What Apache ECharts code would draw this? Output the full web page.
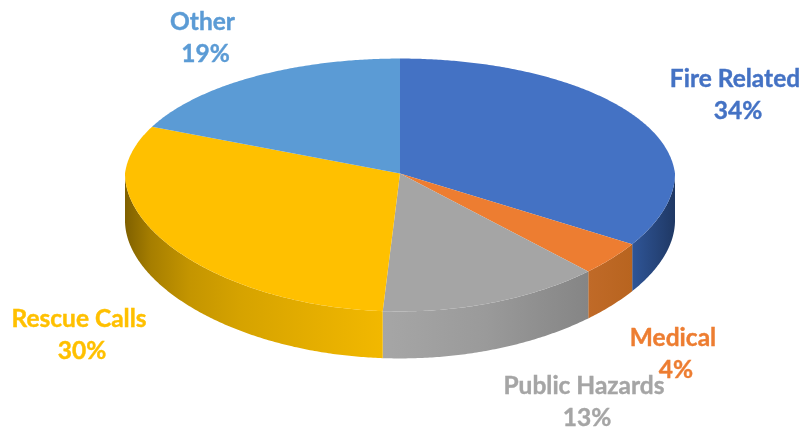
<!DOCTYPE html>
<html>
<head>
<meta charset="utf-8">
<style>html,body{margin:0;padding:0;background:#fff}#main{width:804px;height:427px}</style>
<script src="https://cdn.jsdelivr.net/npm/echarts@6/dist/echarts.min.js"></script>
</head>
<body>
<div id="main"></div>
<script>
var categories = ['Fire Related', 'Medical', 'Public Hazards', 'Rescue Calls', 'Other'];
var values = [34, 4, 13, 30.3, 18.7];
var colors = ['#4472C4', '#ED7D31', '#A5A5A5', '#FFC000', '#5B9BD5'];
// side wall shading, left to right
var sideStops = [
    [[0, '#2f5597'], [1, '#1f3864']],
    [[0, '#c06a28'], [1, '#b8641f']],
    [[0, '#a6a6a6'], [0.5, '#9a9a9a'], [1, '#858585']],
    [[0, '#7f6000'], [0.1, '#a67e00'], [0.25, '#c49500'], [0.45, '#d6a300'], [1, '#f2b800']],
    [[0, '#5b9bd5'], [1, '#5b9bd5']]
];
// label centres, first line
var labelX = [735, 673, 584, 79, 202.5];
var labelY = [79, 338, 386, 319, 22];

var cx = 400, cy = 173.5, rx = 275;
var persA = 125.4, persB = 0.0909;   // fake perspective of the tilted disc
var persX = 0.06;                    // back half narrows a little
var depth = 47;

function pt(deg, dy) {
    var a = deg * Math.PI / 180;
    var v = -Math.cos(a);
    var shrink = v < 0 ? 1 - persX * v : 1;
    return [cx + rx * Math.sin(a) / shrink, cy + persA * v / (1 - persB * v) + (dy || 0)];
}

var total = values.reduce(function (s, d) { return s + d; }, 0);
var starts = [];
values.reduce(function (s, d, i) { starts[i] = s; return s + d; }, 0);

function sideShape(i) {
    var a0 = Math.max(starts[i] / total * 360, 90);
    var a1 = Math.min((starts[i] + values[i]) / total * 360, 270);
    if (a1 <= a0) return null;
    var top = [], bottom = [];
    for (var a = a0; a < a1; a += 0.5) {
        top.push(pt(a));
        bottom.unshift(pt(a, depth));
    }
    top.push(pt(a1));
    bottom.unshift(pt(a1, depth));
    return {
        type: 'polygon',
        shape: { points: top.concat(bottom) },
        style: { fill: new echarts.graphic.LinearGradient(0, 0, 1, 0, sideStops[i].map(function (s) {
            return { offset: s[0], color: s[1] };
        })) }
    };
}

function topShape(i) {
    var a0 = starts[i] / total * 360;
    var a1 = (starts[i] + values[i]) / total * 360;
    var pts = [[cx, cy]];
    for (var a = a0; a < a1; a += 0.5) pts.push(pt(a));
    pts.push(pt(a1));
    return { type: 'polygon', shape: { points: pts }, style: { fill: colors[i] } };
}

function labelShape(i) {
    return {
        type: 'text',
        style: {
            x: labelX[i],
            y: labelY[i] - 16,
            // the percent line sits slightly right of the name in the original
            text: categories[i] + '\n\u00a0' + Math.round(values[i] / total * 100) + '%',
            fill: colors[i],
            stroke: colors[i],
            lineWidth: 0.4,
            font: 'bold 24.5px Lato',
            lineHeight: 32,
            align: 'center',
            verticalAlign: 'top'
        }
    };
}

var myChart = echarts.init(document.getElementById('main'), null, { renderer: 'canvas' });

var option = {
    animation: false,
    backgroundColor: '#fff',
    series: [{
        type: 'custom',
        coordinateSystem: 'none',
        data: values,
        silent: true,
        renderItem: function (params) {
            var i = params.dataIndex;
            // one pass draws everything so tops always land over the walls
            if (i > 0) return { type: 'group', children: [] };
            var children = [];
            values.forEach(function (d, k) {
                var s = sideShape(k);
                if (s) children.push(s);
            });
            values.forEach(function (d, k) { children.push(topShape(k)); });
            values.forEach(function (d, k) { children.push(labelShape(k)); });
            return { type: 'group', children: children };
        }
    }]
};
myChart.setOption(option);
</script>
</body>
</html>
